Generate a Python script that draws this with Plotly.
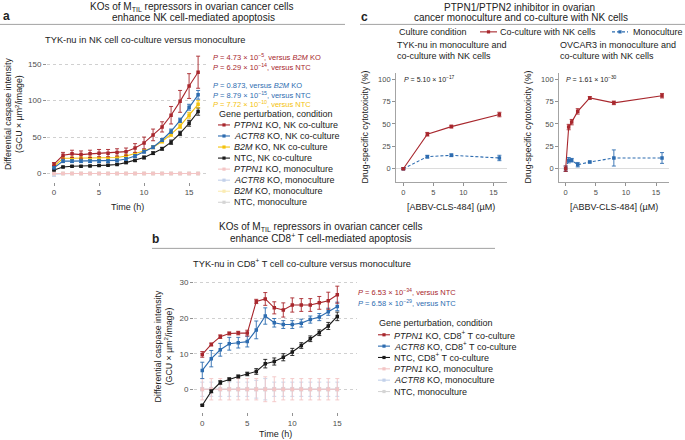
import plotly.graph_objects as go

# ---------------- data ----------------
time_a = [0, 1, 2, 3, 4, 5, 6, 7, 8, 9, 10, 11, 12, 13, 14, 15, 16]
a_ptpn1_nk = [13, 25, 27, 26, 27, 28, 28, 29, 30, 35, 42, 53, 64, 80, 99, 120, 139]
a_ptpn1_nk_err = [2, 4, 5, 5, 5, 5, 5, 5, 5, 6, 8, 8, 7, 12, 15, 17, 22]
a_actr8_nk = [8, 17, 17, 17, 17, 17, 17, 18, 20, 24, 30, 36, 46, 58, 73, 91, 108]
a_actr8_nk_err = [1.5, 2, 2, 2, 2, 2, 2, 2, 2, 2, 2, 2, 2, 3, 3, 4, 6]
a_b2m_nk = [10, 21, 21, 21, 21, 21, 21, 22, 24, 27, 31, 36, 44, 54, 65, 80, 95]
a_b2m_nk_err = [1, 1.5, 1.5, 1.5, 1.5, 1.5, 1.5, 1.5, 2, 2, 2, 2, 2, 3, 3, 4, 5]
a_ntc_nk = [5, 9, 10, 10, 10.5, 11, 11.5, 12.5, 15, 18, 22, 28, 34, 43, 55, 69, 85]
a_ntc_nk_err = [1, 1, 1, 1, 1, 1, 1, 1, 1.5, 1.5, 2, 2, 2, 3, 3, 4, 5]
a_ptpn1_mono = [0, 0, 0, 0, 0, 0, 0, 0, 0, 0, 0, 0, 0, 0, 0, 0, 0]
a_ptpn1_mono_err = [0.8, 0.8, 0.8, 0.8, 0.8, 0.8, 0.8, 0.8, 0.8, 0.8, 0.8, 0.8, 0.8, 0.8, 0.8, 0.8, 0.8]
a_actr8_mono = [-1, 0, 0, 0, 0, 0, 0, 0, 0, 0, 0, 0, 0, 0, 0, 0, 0]
a_actr8_mono_err = [3, 0.5, 0.5, 0.5, 0.5, 0.5, 0.5, 0.5, 0.5, 0.5, 0.5, 0.5, 0.5, 0.5, 0.5, 0.5, 0.5]
a_b2m_mono = [0, 0, 0, 0, 0, 0, 0, 0, 0, 0, 0, 0, 0, 0, 0, 0, 0]
a_b2m_mono_err = [0.5, 0.5, 0.5, 0.5, 0.5, 0.5, 0.5, 0.5, 0.5, 0.5, 0.5, 0.5, 0.5, 0.5, 0.5, 0.5, 0.5]
a_ntc_mono = [0, 0, 0, 0, 0, 0, 0, 0, 0, 0, 0, 0, 0, 0, 0, 0, 0]
a_ntc_mono_err = [0.3, 0.3, 0.3, 0.3, 0.3, 0.3, 0.3, 0.3, 0.3, 0.3, 0.3, 0.3, 0.3, 0.3, 0.3, 0.3, 0.3]

time_b = [0, 1, 2, 3, 4, 5, 6, 7, 8, 9, 10, 11, 12, 13, 14, 15]
b_ptpn1_cd8 = [9.8, 12.6, 14.8, 15.7, 15.8, 15.8, 24.7, 25.4, 22.9, 22.3, 23.7, 23.7, 23.7, 24.3, 24.9, 26.6]
b_ptpn1_cd8_err = [0.8, 0.4, 0.5, 0.4, 0.5, 0.8, 0.6, 1.8, 1.7, 2.0, 2.0, 1.8, 1.8, 1.8, 2.4, 2.4]
b_actr8_cd8 = [5.3, 8.6, 11.1, 12.8, 13.1, 13.4, 16.7, 20.6, 18.7, 18.2, 18.2, 18.6, 19.6, 20.3, 21.8, 23.3]
b_actr8_cd8_err = [2.3, 2.3, 1.8, 1.8, 1.5, 1.5, 2.5, 2.3, 1.2, 1.1, 1.1, 1.1, 1.0, 1.0, 1.0, 1.2]
b_ntc_cd8 = [-4.5, -0.6, 1.9, 2.8, 3.6, 4.3, 5.0, 7.2, 7.8, 9.0, 10.5, 12.3, 14.2, 15.9, 17.8, 20.5]
b_ntc_cd8_err = [0.2, 0.4, 0.5, 0.4, 0.4, 0.5, 0.8, 1.2, 1.0, 1.0, 1.0, 0.8, 0.8, 0.8, 1.0, 1.2]
b_ptpn1_mono = [0, 0, 0, 0, 0, 0, 0, 0, 0, 0, 0, 0, 0, 0, 0, 0]
b_ptpn1_mono_err = [3, 3, 3, 3, 3, 3, 3, 3.5, 3.5, 3, 3, 3, 3, 3, 3, 3]
b_actr8_mono = [0, 0, 0, 0, 0, 0, 0, 0, 0, 0, 0, 0, 0, 0, 0, 0]
b_actr8_mono_err = [2, 2, 2, 2, 2, 2, 2.5, 3, 2, 2, 2, 2, 2, 2, 2, 2]
b_ntc_mono = [0, 0, 0, 0, 0, 0, 0, 0, 0, 0, 0, 0, 0, 0, 0, 0]
b_ntc_mono_err = [0.5, 0.5, 0.5, 0.5, 0.5, 0.5, 0.5, 0.5, 0.5, 0.5, 0.5, 0.5, 0.5, 0.5, 0.5, 0.5]

c1_dose = [0, 4, 8, 16]
c1_coculture = [0, 38.5, 47, 60.5]
c1_coculture_err = [1, 2, 1.5, 2.5]
c1_mono = [0, 13.5, 15, 12]
c1_mono_err = [1, 1.5, 1.5, 3]
c2_dose = [0, 0.5, 1, 2, 4, 8, 16]
c2_coculture = [0, 46.5, 52, 64, 79, 73.5, 81.5]
c2_coculture_err = [3, 3, 3, 3, 1.5, 2, 2.5]
c2_mono = [0, 9.5, 9.5, 4.5, 7.5, 12, 12]
c2_mono_err = [3, 3, 2, 2.5, 1, 9, 6]

time_ticks = [0, 5, 10, 15]
y_ticks_a = [0, 50, 100, 150]
y_ticks_b = [0, 10, 20, 30]
y_ticks_c = [0, 25, 50, 75, 100]
dose_ticks = [0, 5, 10, 15]

# ---------------- style ----------------
W, H = 685, 440
FONT = "Liberation Sans, Arial, sans-serif"
RED = "#a8272d"
BLUE = "#2d6cb0"
YEL = "#f4c20d"
BLK = "#1b1b1b"
PINK = "#f3c5c5"
LBLUE = "#c3d1ea"
LYEL = "#faebb3"
LGREY = "#d5d5d5"
TXT = "#222222"
TICK = "#4d4d4d"

S_TITLE = 10
S_TEXT = 9
S_P = 7.5
S_TICK = 8


def fx(px):
    return px / W


def fy(py):
    return 1 - py / H


fig = go.Figure()


def series(x, y, err, color, xa, ya, dash="solid", width=1.1, msize=3.5):
    fig.add_trace(go.Scatter(
        x=x, y=y, mode="lines+markers", xaxis=xa, yaxis=ya,
        line=dict(color=color, width=width, dash=dash),
        marker=dict(color=color, size=msize, symbol="square"),
        error_y=dict(type="data", array=err, color=color, thickness=0.9, width=2),
        showlegend=False, hoverinfo="skip"))


# panel a
series(time_a, a_actr8_mono, a_actr8_mono_err, LBLUE, "x", "y")
series(time_a, a_b2m_mono, a_b2m_mono_err, LYEL, "x", "y")
series(time_a, a_ntc_mono, a_ntc_mono_err, LGREY, "x", "y")
series(time_a, a_ptpn1_mono, a_ptpn1_mono_err, PINK, "x", "y")
series(time_a, a_ntc_nk, a_ntc_nk_err, BLK, "x", "y")
series(time_a, a_b2m_nk, a_b2m_nk_err, YEL, "x", "y")
series(time_a, a_actr8_nk, a_actr8_nk_err, BLUE, "x", "y")
series(time_a, a_ptpn1_nk, a_ptpn1_nk_err, RED, "x", "y")

# panel b
series(time_b, b_ntc_mono, b_ntc_mono_err, LGREY, "x2", "y2")
series(time_b, b_actr8_mono, b_actr8_mono_err, LBLUE, "x2", "y2")
series(time_b, b_ptpn1_mono, b_ptpn1_mono_err, PINK, "x2", "y2")
series(time_b, b_ntc_cd8, b_ntc_cd8_err, BLK, "x2", "y2")
series(time_b, b_actr8_cd8, b_actr8_cd8_err, BLUE, "x2", "y2")
series(time_b, b_ptpn1_cd8, b_ptpn1_cd8_err, RED, "x2", "y2")

# panel c
series(c1_dose, c1_mono, c1_mono_err, BLUE, "x3", "y3", dash="3px,2px")
series(c1_dose, c1_coculture, c1_coculture_err, RED, "x3", "y3")
series(c2_dose, c2_mono, c2_mono_err, BLUE, "x4", "y4", dash="3px,2px")
series(c2_dose, c2_coculture, c2_coculture_err, RED, "x4", "y4")

tickfont = dict(family=FONT, size=S_TICK, color=TICK)


def grid_axis(dom, rng, ticks, anchor, grid):
    d = dict(domain=dom, range=rng, tickvals=ticks, anchor=anchor,
             showline=False, zeroline=False, ticks="outside", ticklen=3,
             tickwidth=0.8, tickcolor="#777", tickfont=tickfont, fixedrange=True)
    if grid:
        d.update(showgrid=True, gridcolor="#c4c4c4", gridwidth=0.8, griddash="dot")
    else:
        d.update(showgrid=False)
    return d


def line_axis(dom, rng, ticks, anchor, zero=False):
    return dict(domain=dom, range=rng, tickvals=ticks, anchor=anchor,
                showline=True, linecolor="#9a9a9a", linewidth=0.9, showgrid=False,
                zeroline=zero, zerolinecolor="#dcdcdc", zerolinewidth=1.4,
                ticks="outside", ticklen=3, tickwidth=0.8, tickcolor="#777",
                tickfont=dict(family=FONT, size=7.5, color=TICK), fixedrange=True)


fig.update_layout(
    width=W, height=H, margin=dict(l=0, r=0, t=0, b=0),
    paper_bgcolor="white", plot_bgcolor="white", showlegend=False,
    font=dict(family=FONT, color=TXT),
    xaxis=grid_axis([fx(47), fx(208)], [-0.78, 17.1], time_ticks, "y", False),
    yaxis=grid_axis([fy(180.6), fy(46)], [-11.3, 172.5], y_ticks_a, "x", True),
    xaxis2=grid_axis([fx(194), fx(357)], [-0.92, 17.19], time_ticks, "y2", False),
    yaxis2=grid_axis([fy(412), fy(280)], [-6.44, 30.53], y_ticks_b, "x2", True),
    xaxis3=line_axis([fx(396), fx(506.6)], [-1.22, 17.2], dose_ticks, "y3"),
    yaxis3=line_axis([fy(180.7), fy(71.7)], [-14.67, 106.4], y_ticks_c, "x3", zero=True),
    xaxis4=line_axis([fx(559), fx(669)], [-1.11, 17.16], dose_ticks, "y4"),
    yaxis4=line_axis([fy(180.7), fy(71.7)], [-14.67, 106.4], y_ticks_c, "x4", zero=True),
)


def txt(s, x, y, size=S_TEXT, color=TXT, xanchor="left", angle=0, bold=False):
    if bold:
        s = "<b>" + s + "</b>"
    fig.add_annotation(text=s, x=fx(x), y=fy(y), xref="paper", yref="paper",
                       showarrow=False, xanchor=xanchor, yanchor="middle",
                       textangle=angle, borderpad=0,
                       font=dict(size=size, color=color, family=FONT))


def hline(x0, x1, y, color="#8a8a8a", width=0.8, dash="solid"):
    fig.add_shape(type="line", xref="paper", yref="paper", x0=fx(x0), x1=fx(x1),
                  y0=fy(y), y1=fy(y), line=dict(color=color, width=width, dash=dash))


def key(x0, x1, y, color, dash="solid"):
    hline(x0, x1, y, color=color, width=1.1, dash=dash)
    xm = (x0 + x1) / 2
    fig.add_shape(type="rect", xref="paper", yref="paper",
                  x0=fx(xm - 1.6), x1=fx(xm + 1.6), y0=fy(y + 1.6), y1=fy(y - 1.6),
                  fillcolor=color, line=dict(width=0))


# ---- panel a text ----
txt("a", 2, 14, size=12, bold=True)
txt("KOs of M<sub>TIL</sub> repressors in ovarian cancer cells", 192, 5.5, size=S_TITLE, xanchor="center")
txt("enhance NK cell-mediated apoptosis", 193, 16, size=S_TITLE, xanchor="center")
hline(0, 345, 22.5)
txt("TYK-nu in NK cell co-culture versus monoculture", 44, 38, size=9.3)
txt("Differential caspase intensity<br>(GCU × µm<sup>2</sup>/image)", 13.5, 113, size=8.8, xanchor="center", angle=-90)
txt("Time (h)", 127.5, 205.5, size=S_TEXT, xanchor="center")

txt("<i>P</i> = 4.73 × 10<sup>−5</sup>, versus <i>B2M</i> KO", 212, 55, size=S_P, color=RED)
txt("<i>P</i> = 6.29 × 10<sup>−14</sup>, versus NTC", 212, 65.5, size=S_P, color=RED)
txt("<i>P</i> = 0.873, versus <i>B2M</i> KO", 212, 83.5, size=S_P, color=BLUE)
txt("<i>P</i> = 8.79 × 10<sup>−15</sup>, versus NTC", 212, 93, size=S_P, color=BLUE)
txt("<i>P</i> = 7.72 × 10<sup>−10</sup>, versus NTC", 212, 102.5, size=S_P, color=YEL)

txt("Gene perturbation, condition", 218, 113, size=S_TEXT)
legend_a = [
    ("<i>PTPN1</i> KO, NK co-culture", RED),
    ("<i>ACTR8</i> KO, NK co-culture", BLUE),
    ("<i>B2M</i> KO, NK co-culture", YEL),
    ("NTC, NK co-culture", BLK),
    ("<i>PTPN1</i> KO, monoculture", PINK),
    ("<i>ACTR8</i> KO, monoculture", LBLUE),
    ("<i>B2M</i> KO, monoculture", LYEL),
    ("NTC, monoculture", LGREY),
]
for i, (lab, col) in enumerate(legend_a):
    yy = 123.5 + 11.1 * i
    key(218, 230, yy, col)
    txt(lab, 233, yy, size=S_TEXT)

# ---- panel b text ----
txt("b", 151, 238, size=12, bold=True)
txt("KOs of M<sub>TIL</sub> repressors in ovarian cancer cells", 321, 226, size=S_TITLE, xanchor="center")
txt("enhance CD8<sup>+</sup> T cell-mediated apoptosis", 321, 237.5, size=S_TITLE, xanchor="center")
hline(152, 495, 247.5)
txt("TYK-nu in CD8<sup>+</sup> T cell co-culture versus monoculture", 192, 262, size=9.3)
txt("Differential caspase intensity<br>(GCU × µm<sup>2</sup>/image)", 163, 346, size=8.8, xanchor="center", angle=-90)
txt("Time (h)", 275.5, 434, size=S_TEXT, xanchor="center")
txt("<i>P</i> = 6.53 × 10<sup>−34</sup>, versus NTC", 357, 291.7, size=S_P, color=RED)
txt("<i>P</i> = 6.58 × 10<sup>−29</sup>, versus NTC", 357, 302.3, size=S_P, color=BLUE)
txt("Gene perturbation, condition", 378, 322.7, size=S_TEXT)
legend_b = [
    ("<i>PTPN1</i> KO, CD8<sup>+</sup> T co-culture", RED),
    ("<i>ACTR8</i> KO, CD8<sup>+</sup> T co-culture", BLUE),
    ("NTC, CD8<sup>+</sup> T co-culture", BLK),
    ("<i>PTPN1</i> KO, monoculture", PINK),
    ("<i>ACTR8</i> KO, monoculture", LBLUE),
    ("NTC, monoculture", LGREY),
]
for i, (lab, col) in enumerate(legend_b):
    yy = 334.3 + 11.4 * i
    key(378, 390, yy, col)
    txt(lab, 393, yy, size=S_TEXT)

# ---- panel c text ----
txt("c", 360, 15, size=12, bold=True)
txt("PTPN1/PTPN2 inhibitor in ovarian", 519, 5.5, size=S_TITLE, xanchor="center")
txt("cancer monoculture and co-culture with NK cells", 521, 16, size=S_TITLE, xanchor="center")
hline(360, 685, 22.5)
txt("Culture condition", 398, 30, size=S_TEXT)
key(480, 497, 30, RED)
txt("Co-culture with NK cells", 499, 30, size=S_TEXT)
key(612, 628, 30, BLUE, dash="3px,2px")
txt("Monoculture", 632, 30, size=S_TEXT)
txt("TYK-nu in monoculture and", 396, 43.5, size=S_TEXT)
txt("co-culture with NK cells", 396, 54, size=S_TEXT)
txt("OVCAR3 in monoculture and", 559, 43.5, size=S_TEXT)
txt("co-culture with NK cells", 559, 54, size=S_TEXT)
txt("<i>P</i> = 5.10 × 10<sup>−17</sup>", 403, 77.5, size=7)
txt("<i>P</i> = 1.61 × 10<sup>−30</sup>", 565, 77.5, size=7)
txt("Drug-specific cytotoxicity (%)", 365, 126, size=8.8, xanchor="center", angle=-90)
txt("Drug-specific cytotoxicity (%)", 528, 126, size=8.8, xanchor="center", angle=-90)
txt("[ABBV-CLS-484] (µM)", 451, 205.5, size=S_TEXT, xanchor="center")
txt("[ABBV-CLS-484] (µM)", 614, 205.5, size=S_TEXT, xanchor="center")

fig.write_html(
    "out.html",
    config={"displayModeBar": False, "staticPlot": True},
    post_script="document.body.style.margin='0px';document.body.style.overflow='hidden';",
)
